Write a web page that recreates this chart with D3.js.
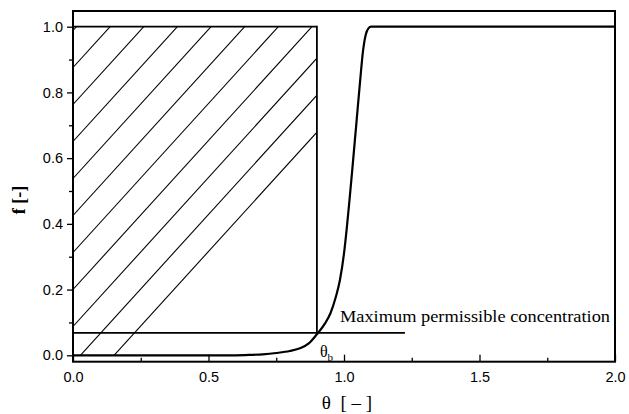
<!DOCTYPE html>
<html>
<head>
<meta charset="utf-8">
<script src="https://cdn.jsdelivr.net/npm/d3@7"></script>
<style>
  html, body { margin: 0; padding: 0; background: #fff; }
  svg { display: block; }
</style>
</head>
<body>
<svg id="chart" width="629" height="414"></svg>
<script>
// ---- data ----
const xTicks = [0.0, 0.5, 1.0, 1.5, 2.0];
const xMinorTicks = [0.25, 0.75, 1.25, 1.75];
const yTicks = [0.0, 0.2, 0.4, 0.6, 0.8, 1.0];
const yMinorTicks = [0.1, 0.3, 0.5, 0.7, 0.9];

// breakthrough curve f(theta)
const curveTheta = [0.0, 0.60, 0.65, 0.70, 0.75, 0.80, 0.84, 0.87, 0.90, 0.93, 0.95, 0.97, 0.985, 1.00, 1.01, 1.02, 1.03, 1.045, 1.06, 1.07, 1.08, 1.09, 1.10, 2.0];
const curveF     = [0.0, 0.0,  0.001, 0.003, 0.007, 0.013, 0.022, 0.036, 0.064, 0.097, 0.128, 0.178, 0.229, 0.31, 0.385, 0.47, 0.56, 0.70, 0.84, 0.925, 0.975, 0.995, 1.0, 1.0];

const thetaB = 0.9;        // breakthrough time (hatched box right edge)
const boxTop = 1.0;        // hatched box top
const mpcLevel = 0.068;    // maximum permissible concentration
const mpcEnd = 1.225;      // end of the mpc line
const mpcLabel = "Maximum permissible concentration";

// ---- layout ----
const svg = d3.select("#chart");
const x = d3.scaleLinear().domain([0, 2]).range([73, 615]);
const y = d3.scaleLinear().domain([-0.0195, 1.0478]).range([361.7, 11]);

const curveData = curveTheta.map((t, i) => ({ t, f: curveF[i] }));
const line = d3.line().x(d => x(d.t)).y(d => y(d.f)).curve(d3.curveMonotoneX);

// ---- hatched region (between curve and f=1, left of thetaB) ----
const regionPts = [[x(0), y(boxTop)], [x(thetaB), y(boxTop)], [x(thetaB), y(mpcLevel)]]
  .concat(curveData.filter(d => d.t < thetaB).reverse().map(d => [x(d.t), y(d.f)]));

svg.append("clipPath").attr("id", "hatchClip")
  .append("path")
  .attr("d", "M" + regionPts.map(p => p.join(",")).join("L") + "Z");

const hatchSlope = 1.1, hatchGap = 37, hatchPhase = 326.5;
const hatchG = svg.append("g").attr("clip-path", "url(#hatchClip)");
for (let k = -2; k < 25; k++) {
  const y0 = hatchPhase - k * hatchGap; // intercept at left axis
  const x0 = x(0), x1 = x(thetaB) + 5;
  hatchG.append("line")
    .attr("x1", x0).attr("y1", y0)
    .attr("x2", x1).attr("y2", y0 - (x1 - x0) * hatchSlope)
    .attr("stroke", "#000").attr("stroke-width", 1.1);
}

// ---- box lines ----
svg.append("line")
  .attr("x1", x(0)).attr("x2", x(thetaB))
  .attr("y1", y(boxTop)).attr("y2", y(boxTop))
  .attr("stroke", "#000").attr("stroke-width", 1.8);
svg.append("line")
  .attr("x1", x(thetaB)).attr("x2", x(thetaB))
  .attr("y1", y(boxTop) - 0.9).attr("y2", y(mpcLevel))
  .attr("stroke", "#000").attr("stroke-width", 1.8);

// ---- maximum permissible concentration line ----
svg.append("line")
  .attr("x1", x(0)).attr("x2", x(mpcEnd))
  .attr("y1", y(mpcLevel)).attr("y2", y(mpcLevel))
  .attr("stroke", "#000").attr("stroke-width", 1.8);

// ---- curve ----
svg.append("path")
  .datum(curveData)
  .attr("d", line)
  .attr("fill", "none")
  .attr("stroke", "#000")
  .attr("stroke-width", 2.2)
  .attr("stroke-linejoin", "round");

// ---- frame ----
svg.append("rect")
  .attr("x", x.range()[0]).attr("y", y.range()[1])
  .attr("width", x.range()[1] - x.range()[0])
  .attr("height", y.range()[0] - y.range()[1])
  .attr("fill", "none").attr("stroke", "#000").attr("stroke-width", 2);

// ---- axes ----
const tickFont = "'Liberation Sans', Arial, sans-serif";
const xAxis = d3.axisBottom(x).tickValues(xTicks).tickFormat(d3.format(".1f"))
  .tickSizeInner(-7).tickSizeOuter(0).tickPadding(10);
const gx = svg.append("g").attr("transform", `translate(0,${y.range()[0]})`).call(xAxis);
gx.select(".domain").remove();
gx.selectAll(".tick line").attr("stroke-width", 1.3);
gx.selectAll(".tick text").attr("font-family", tickFont).attr("font-size", 14.5).attr("fill", "#000");
const gxm = svg.append("g").attr("transform", `translate(0,${y.range()[0]})`)
  .call(d3.axisBottom(x).tickValues(xMinorTicks).tickFormat("").tickSizeInner(-4).tickSizeOuter(0));
gxm.select(".domain").remove();
gxm.selectAll(".tick line").attr("stroke-width", 1.3);

const yAxis = d3.axisLeft(y).tickValues(yTicks).tickFormat(d3.format(".1f"))
  .tickSizeInner(6).tickSizeOuter(0).tickPadding(4);
const gy = svg.append("g").attr("transform", `translate(${x.range()[0]},0)`).call(yAxis);
gy.select(".domain").remove();
gy.selectAll(".tick line").attr("stroke-width", 1.3);
gy.selectAll(".tick text").attr("font-family", tickFont).attr("font-size", 14.5).attr("fill", "#000");
const gym = svg.append("g").attr("transform", `translate(${x.range()[0]},0)`)
  .call(d3.axisLeft(y).tickValues(yMinorTicks).tickFormat("").tickSizeInner(4).tickSizeOuter(0));
gym.select(".domain").remove();
gym.selectAll(".tick line").attr("stroke-width", 1.3);

// ---- labels ----
const serif = "'Liberation Serif', 'Times New Roman', serif";
svg.append("text")
  .attr("x", 340).attr("y", 322)
  .attr("font-family", serif).attr("font-size", 17)
  .attr("textLength", 270).attr("lengthAdjust", "spacingAndGlyphs")
  .text(mpcLabel);

const tb = svg.append("text")
  .attr("x", x(thetaB) + 3).attr("y", 357)
  .attr("font-family", serif).attr("font-size", 16);
tb.append("tspan").text("θ");
tb.append("tspan").attr("font-size", 11).attr("dy", 4).text("b");

svg.append("text")
  .attr("x", 347).attr("y", 409)
  .attr("text-anchor", "middle")
  .attr("font-family", serif).attr("font-size", 19)
  .attr("xml:space", "preserve")
  .text("θ  [ – ]");

const yt = svg.append("text")
  .attr("transform", "translate(25,200) rotate(-90)")
  .attr("text-anchor", "middle")
  .attr("font-family", serif).attr("font-size", 18);
yt.append("tspan").attr("font-weight", "bold").text("f");
yt.append("tspan").attr("font-weight", "bold").text(" [-]");
</script>
</body>
</html>
